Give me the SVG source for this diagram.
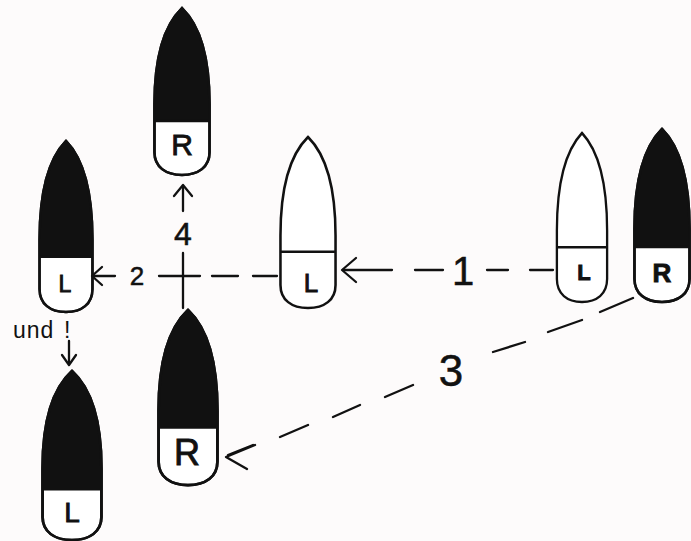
<svg xmlns="http://www.w3.org/2000/svg" width="691" height="541" viewBox="0 0 691 541">
<style>
.hull{fill:#fff;stroke:#111;stroke-width:2.5;vector-effect:non-scaling-stroke}
.blk{fill:#111}
.div{stroke:#111;stroke-width:2.5;vector-effect:non-scaling-stroke}
.lbl{font-family:"Liberation Sans","DejaVu Sans",sans-serif;fill:#111;stroke:#111;stroke-width:0.9;text-anchor:middle}
.num{font-family:"Liberation Sans","DejaVu Sans",sans-serif;fill:#111;stroke:#111;stroke-width:0.5;text-anchor:middle}
.ln{stroke:#111;stroke-width:2.3;fill:none;stroke-linecap:round;stroke-linejoin:round}
</style>
<defs>
<path id="hullPath" d="M0,0 C18,18 27,50 27,98 L27,147 C27,162 16,170 0,170 C-16,170 -27,162 -27,147 L-27,98 C-27,50 -18,18 0,0 Z"/>
<clipPath id="hullClip"><use href="#hullPath"/></clipPath>
</defs>
<rect width="691" height="541" fill="#fdfbfb"/>

<g id="node-R-top" transform="translate(182,8) scale(1.02,0.982)">
<use href="#hullPath" class="hull"/>
<rect x="-30" y="0" width="60" height="115" class="blk" clip-path="url(#hullClip)"/>
<line x1="-27" y1="115" x2="27" y2="115" class="div"/>
<use href="#hullPath" class="hull" style="fill:none"/>
</g>
<text class="lbl" x="182" y="155" font-size="30">R</text>

<g id="node-L-left" transform="translate(66,141) scale(0.98,1.006)">
<use href="#hullPath" class="hull"/>
<rect x="-30" y="0" width="60" height="115" class="blk" clip-path="url(#hullClip)"/>
<line x1="-27" y1="115" x2="27" y2="115" class="div"/>
<use href="#hullPath" class="hull" style="fill:none"/>
</g>
<text class="lbl" x="65" y="292" font-size="23">L</text>

<g id="node-L-mid" transform="translate(308,137) scale(1.02,1.006)">
<use href="#hullPath" class="hull"/>
<line x1="-27" y1="114" x2="27" y2="114" class="div"/>
</g>
<text class="lbl" x="311" y="292" font-size="26">L</text>

<g id="node-L-right" transform="translate(582,133) scale(0.93,0.994)">
<use href="#hullPath" class="hull"/>
<line x1="-27" y1="115" x2="27" y2="115" class="div"/>
</g>
<text class="lbl" x="584" y="280" font-size="22" font-weight="bold">L</text>

<g id="node-R-right" transform="translate(662,129) scale(1.02,1.018)">
<use href="#hullPath" class="hull"/>
<rect x="-30" y="0" width="60" height="116" class="blk" clip-path="url(#hullClip)"/>
<line x1="-27" y1="116" x2="27" y2="116" class="div"/>
<use href="#hullPath" class="hull" style="fill:none"/>
</g>
<text class="lbl" x="662" y="282" font-size="26" font-weight="bold">R</text>

<g id="node-R-bottom" transform="translate(188,310) scale(1.09,1.03)">
<use href="#hullPath" class="hull"/>
<rect x="-30" y="0" width="60" height="114" class="blk" clip-path="url(#hullClip)"/>
<line x1="-27" y1="114" x2="27" y2="114" class="div"/>
<use href="#hullPath" class="hull" style="fill:none"/>
</g>
<text class="lbl" x="187" y="465" font-size="36">R</text>

<g id="node-L-bottom" transform="translate(72,371) scale(1.09,0.994)">
<use href="#hullPath" class="hull"/>
<rect x="-30" y="0" width="60" height="119" class="blk" clip-path="url(#hullClip)"/>
<line x1="-27" y1="119" x2="27" y2="119" class="div"/>
<use href="#hullPath" class="hull" style="fill:none"/>
</g>
<text class="lbl" x="72" y="522" font-size="28">L</text>

<g id="connectors">
<!-- 1 -->
<path class="ln" d="M343,270 L392,270 M415,270 L443,270 M487,270 L508,270 M530,270 L553,270"/>
<path class="ln" d="M356,258 L342,270 L356,282"/>
<!-- 2 -->
<path class="ln" d="M94,276 L115,276 M159,276 L200,276 M212,276 L238,276 M253,276 L277,276"/>
<path class="ln" d="M102,267 L92,276 L102,285"/>
<!-- 4 -->
<path class="ln" d="M183,253 L183,308 M183,187 L183,211"/>
<path class="ln" d="M174,196 L183,185 L192,196"/>
<!-- und -->
<path class="ln" d="M69,341 L69,364"/>
<path class="ln" d="M62,355 L69,365 L76,355"/>
<!-- 3 -->
<path class="ln" d="M633,298 L600,312 M582,320 L548,332 M525,342 L493,352 M413,385 L385,397 M360,405 L333,417 M308,425 L280,437 M253,445 L228,455"/>
<path class="ln" d="M255,445 L226,457 L247,469"/>
</g>

<text class="num" x="463" y="285" font-size="40">1</text>
<text class="num" x="137" y="285" font-size="26">2</text>
<text class="num" x="451" y="386" font-size="44">3</text>
<text class="num" x="183" y="245" font-size="32">4</text>
<text x="13" y="338" font-size="23" font-family="Liberation Sans, DejaVu Sans, sans-serif" fill="#111" letter-spacing="1">und<tspan x="64">!</tspan></text>
</svg>
